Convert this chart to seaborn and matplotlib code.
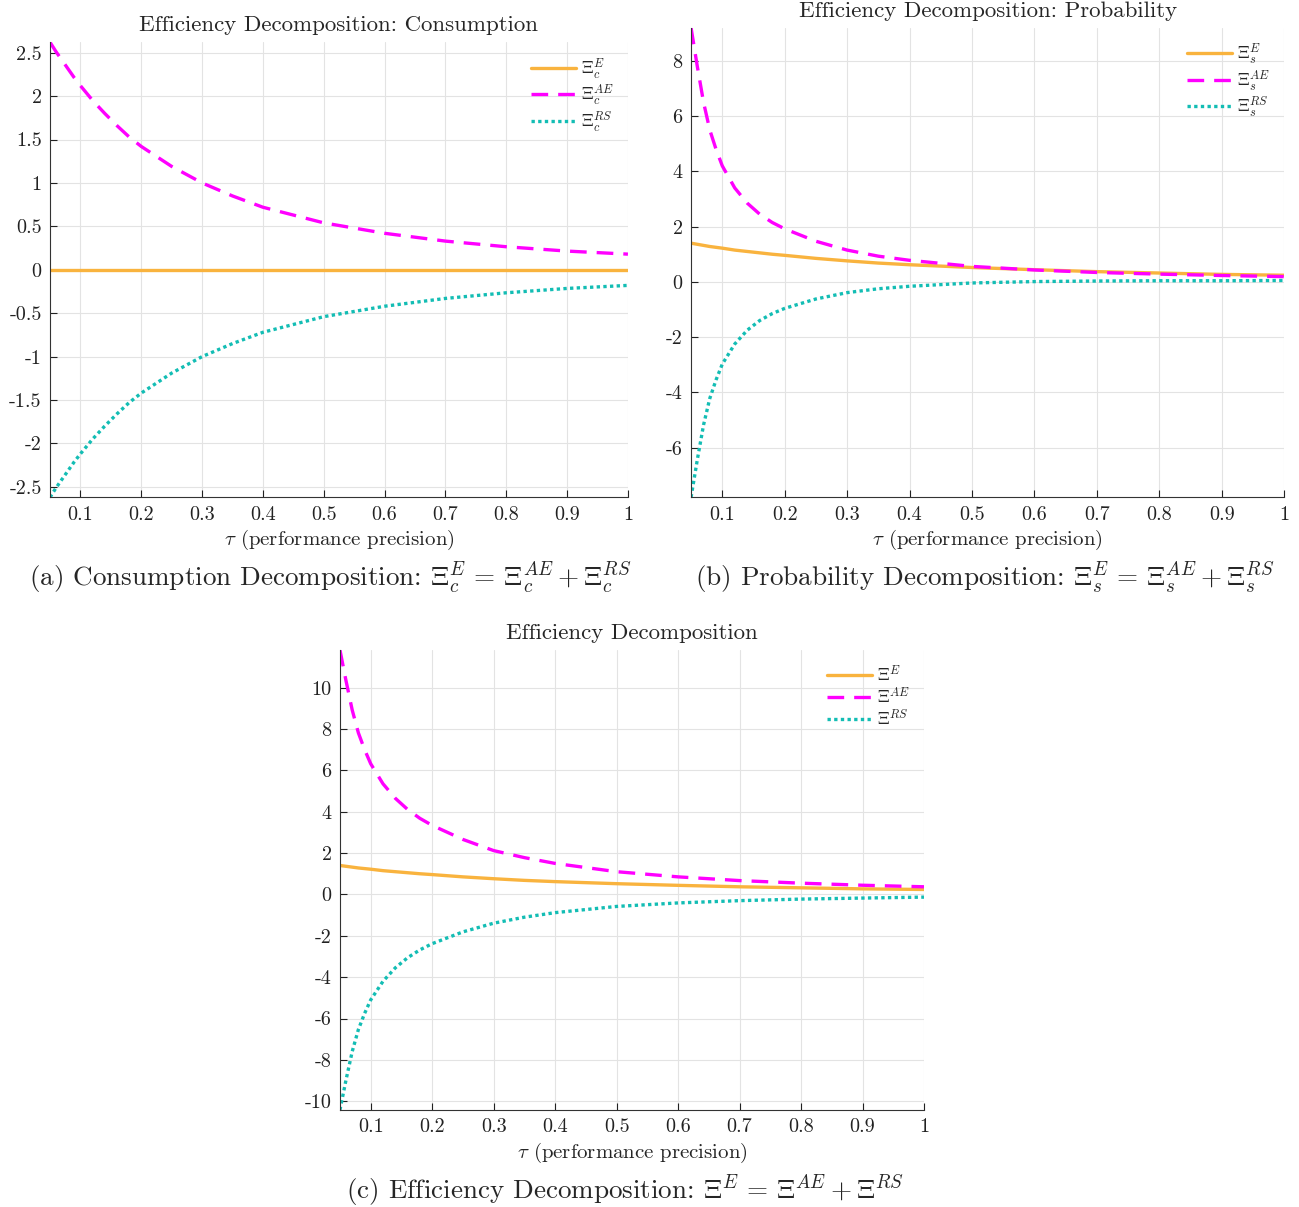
import numpy as np
import pandas as pd
import seaborn as sns
import matplotlib.pyplot as plt

# tau grid shared by all panels
tau = [0.05, 0.06, 0.07, 0.08, 0.09, 0.10, 0.12, 0.14, 0.16, 0.18, 0.20,
       0.25, 0.30, 0.35, 0.40, 0.50, 0.60, 0.70, 0.80, 0.90, 1.00]

# consumption decomposition
cons_E = [0.0] * 21
cons_AE = [2.62, 2.51, 2.41, 2.31, 2.21, 2.12, 1.95, 1.80, 1.66, 1.53, 1.42,
           1.19, 1.00, 0.85, 0.72, 0.54, 0.42, 0.33, 0.265, 0.215, 0.18]
cons_RS = [-2.62, -2.51, -2.41, -2.31, -2.21, -2.12, -1.95, -1.80, -1.66, -1.53, -1.42,
           -1.19, -1.00, -0.85, -0.72, -0.54, -0.42, -0.33, -0.265, -0.215, -0.18]

# probability decomposition
prob_E = [1.40, 1.36, 1.32, 1.28, 1.25, 1.22, 1.15, 1.10, 1.05, 1.00, 0.96,
          0.85, 0.76, 0.68, 0.62, 0.52, 0.44, 0.37, 0.32, 0.27, 0.24]
prob_AE = [9.20, 7.80, 6.50, 5.50, 4.80, 4.20, 3.40, 2.85, 2.45, 2.15, 1.92,
           1.47, 1.15, 0.93, 0.78, 0.56, 0.43, 0.34, 0.28, 0.23, 0.19]
prob_RS = [-7.80, -6.44, -5.18, -4.22, -3.55, -2.98, -2.25, -1.75, -1.40, -1.15, -0.96,
           -0.62, -0.39, -0.25, -0.16, -0.04, 0.01, 0.03, 0.04, 0.04, 0.05]

# total decomposition
tot_E = prob_E
tot_AE = [11.82, 10.31, 8.91, 7.81, 7.01, 6.32, 5.35, 4.65, 4.11, 3.68, 3.34,
          2.66, 2.12, 1.78, 1.50, 1.10, 0.85, 0.67, 0.545, 0.445, 0.37]
tot_RS = [-10.42, -8.95, -7.59, -6.53, -5.76, -5.10, -4.20, -3.55, -3.06, -2.68, -2.38,
          -1.81, -1.39, -1.10, -0.88, -0.58, -0.41, -0.30, -0.225, -0.175, -0.13]

ORANGE = '#F9B33E'
MAGENTA = '#FF00FF'
TEAL = '#13BDB4'

sns.set_style('whitegrid', {'grid.color': '#e3e3e3', 'axes.edgecolor': '#333333'})
plt.rcParams['font.family'] = ['cmr10', 'DejaVu Serif']
plt.rcParams['mathtext.fontset'] = 'cm'
plt.rcParams['axes.unicode_minus'] = False

fig = plt.figure(figsize=(12.99, 12.07), dpi=100)
ax1 = fig.add_axes([0.0385, 0.588, 0.4449, 0.377])
ax2 = fig.add_axes([0.532, 0.588, 0.4565, 0.389])
ax3 = fig.add_axes([0.2617, 0.0804, 0.4496, 0.3811])


def panel(ax, E, AE, RS, sub, ylim, yticks, ylabels, title):
    df = pd.DataFrame({'tau': tau, 'E': E, 'AE': AE, 'RS': RS})
    sns.lineplot(data=df, x='tau', y='E', ax=ax, color=ORANGE, lw=2.4,
                 label=r'$\Xi%s^{E}$' % sub)
    sns.lineplot(data=df, x='tau', y='AE', ax=ax, color=MAGENTA, lw=2.4,
                 dashes=(5, 3), label=r'$\Xi%s^{AE}$' % sub)
    sns.lineplot(data=df, x='tau', y='RS', ax=ax, color=TEAL, lw=2.4,
                 ls=(0, (1, 1)), label=r'$\Xi%s^{RS}$' % sub)
    ax.set_xlim(0.05, 1)
    ax.set_ylim(*ylim)
    xt = [0.1, 0.2, 0.3, 0.4, 0.5, 0.6, 0.7, 0.8, 0.9, 1.0]
    ax.set_xticks(xt)
    ax.set_xticklabels(['0.1', '0.2', '0.3', '0.4', '0.5', '0.6', '0.7', '0.8', '0.9', '1'])
    ax.set_yticks(yticks)
    ax.set_yticklabels(ylabels)
    ax.tick_params(direction='in', length=5, width=0.8, labelsize=14.5, pad=6,
                   colors='#222222', bottom=True, left=True)
    for s in ['top', 'right']:
        ax.spines[s].set_visible(False)
    ax.spines['left'].set_linewidth(0.8)
    ax.spines['bottom'].set_linewidth(0.8)
    ax.set_xlabel(r'$\tau$ (performance precision)', fontsize=15, labelpad=3)
    ax.set_ylabel('')
    ax.set_title(title, fontsize=16.5, pad=8)
    ax.legend(loc='upper right', frameon=False, fontsize=12.5, handlelength=2.6,
              labelspacing=0.1, borderaxespad=0.4, handletextpad=0.3)


panel(ax1, cons_E, cons_AE, cons_RS, '_c', (-2.62, 2.62),
      [-2.5, -2, -1.5, -1, -0.5, 0, 0.5, 1, 1.5, 2, 2.5],
      ['-2.5', '-2', '-1.5', '-1', '-0.5', '0', '0.5', '1', '1.5', '2', '2.5'],
      'Efficiency Decomposition: Consumption')
panel(ax2, prob_E, prob_AE, prob_RS, '_s', (-7.8, 9.2),
      [-6, -4, -2, 0, 2, 4, 6, 8], ['-6', '-4', '-2', '0', '2', '4', '6', '8'],
      'Efficiency Decomposition: Probability')
panel(ax3, tot_E, tot_AE, tot_RS, '', (-10.42, 11.82),
      [-10, -8, -6, -4, -2, 0, 2, 4, 6, 8, 10],
      ['-10', '-8', '-6', '-4', '-2', '0', '2', '4', '6', '8', '10'],
      'Efficiency Decomposition')

fig.text(0.254, 1 - 577 / 1207,
         r'(a) Consumption Decomposition: $\Xi_c^E\,=\,\Xi_c^{AE}+\Xi_c^{RS}$',
         ha='center', va='center', fontsize=19.5)
fig.text(0.758, 1 - 577 / 1207,
         r'(b) Probability Decomposition: $\Xi_s^E\,=\,\Xi_s^{AE}+\Xi_s^{RS}$',
         ha='center', va='center', fontsize=19.5)
fig.text(0.481, 1 - 1190 / 1207,
         r'(c) Efficiency Decomposition: $\Xi^E\,=\,\Xi^{AE}+\Xi^{RS}$',
         ha='center', va='center', fontsize=19.5)

fig.savefig('out.png', dpi=100)
